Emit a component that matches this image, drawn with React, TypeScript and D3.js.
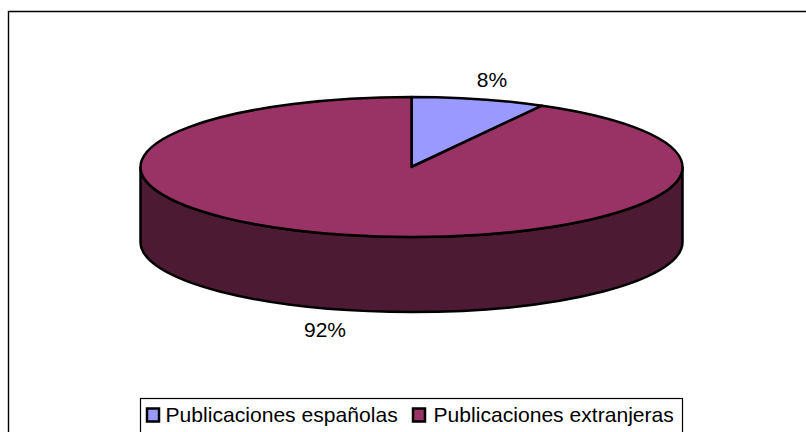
import React from "react";
import * as d3 from "d3";

const categories = ["Publicaciones españolas", "Publicaciones extranjeras"];
const values = [8, 92];
const labels = ["8%", "92%"];
const topColors = ["#9999ff", "#993366"];
const sideColor = "#4d1a33";

const W = 806, H = 432;
const cx = 411.5, cy = 167, rx = 271, ry = 70, depth = 75;

const x = d3.scaleLinear().domain([-1, 1]).range([cx - rx, cx + rx]);
const y = d3.scaleLinear().domain([-1, 1]).range([cy - ry, cy + ry]);

export default function App() {
  const pie = d3.pie<number>().sort(null)(values);
  const pt = (a: number) => [x(Math.sin(a)), y(-Math.cos(a))];
  const wedge = (a0: number, a1: number) => {
    const [x0, y0] = pt(a0);
    const [x1, y1] = pt(a1);
    const large = a1 - a0 > Math.PI ? 1 : 0;
    return `M${cx},${cy}L${x0},${y0}A${rx},${ry} 0 ${large} 1 ${x1},${y1}Z`;
  };
  const side = `M${x(-1)},${cy}A${rx},${ry} 0 0 0 ${x(1)},${cy}L${x(1)},${cy + depth}A${rx},${ry} 0 0 1 ${x(-1)},${cy + depth}Z`;
  const font = "Liberation Sans, Arial, sans-serif";
  return (
    <svg width={W} height={H} style={{ position: "absolute", left: 0, top: 0 }} fontFamily={font}>
      <rect width={W} height={H} fill="#fff" />
      <path d={`M8.5,${H}V11.5H${W}`} fill="none" stroke="#000" strokeWidth={1.4} />
      <path d={side} fill={sideColor} stroke="#000" strokeWidth={2.5} />
      {pie.map((d, i) => (
        <path key={i} d={wedge(d.startAngle, d.endAngle)} fill={topColors[i]} stroke="#000" strokeWidth={2.5} strokeLinejoin="round" />
      ))}
      <text x={492} y={87} fontSize={21} textAnchor="middle" fill="#000">{labels[0]}</text>
      <text x={325} y={337} fontSize={21} textAnchor="middle" fill="#000">{labels[1]}</text>
      <rect x={140.5} y={398.5} width={542} height={40} fill="#fff" stroke="#000" strokeWidth={1.2} />
      {categories.map((c, i) => {
        const bx = [147, 413][i];
        return (
          <g key={c}>
            <rect x={bx} y={408.5} width={12} height={13} fill={topColors[i]} stroke="#000" strokeWidth={2.5} />
            <text x={[165.5, 433.5][i]} y={422} fontSize={21.1} fill="#000">{c}</text>
          </g>
        );
      })}
    </svg>
  );
}
